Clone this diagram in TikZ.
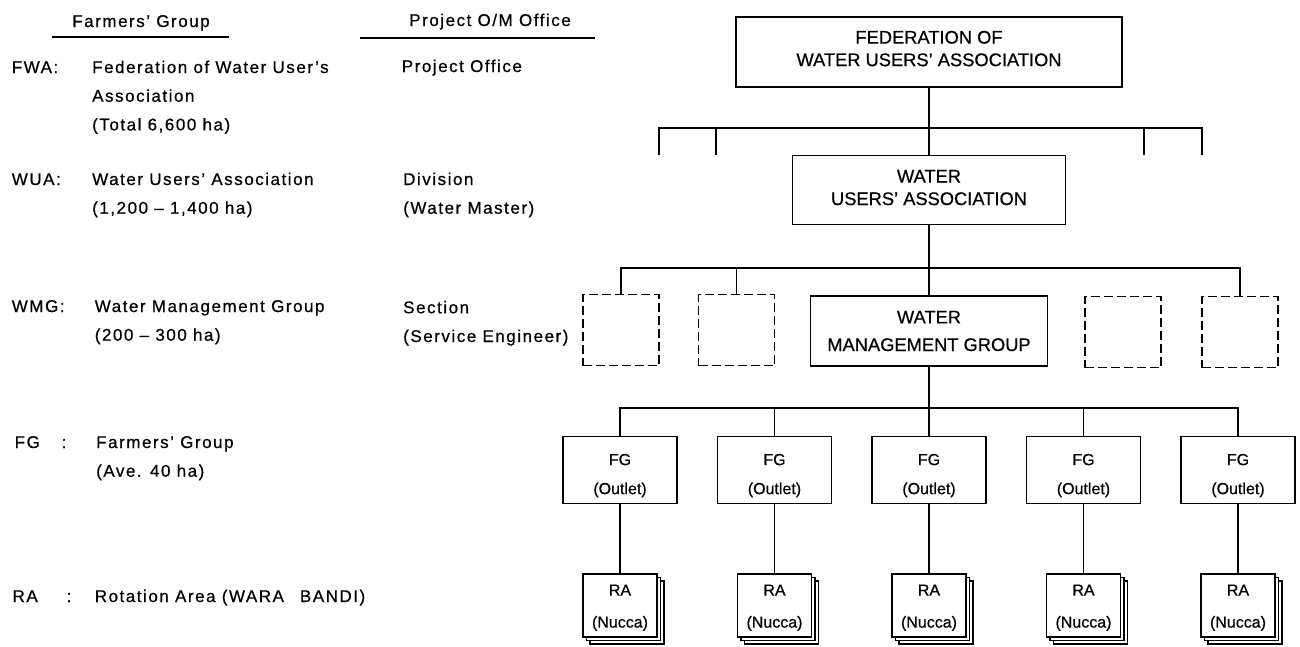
\documentclass[tikz,border=0pt]{standalone}
\usepackage{fontspec}
\setmainfont[FakeBold=0.6,Ligatures=TeX]{Liberation Sans}
\newfontfamily\labfont[LetterSpace=9,FakeBold=0.6,Ligatures=TeX]{Liberation Sans}
\usetikzlibrary{positioning}

\begin{document}
\begin{tikzpicture}[x=1pt,y=-1pt,
	box/.style		=	{draw,line width=1.7pt,align=center,inner sep=0pt,
							font=\fontsize{18.3}{22.5}\selectfont},
	empty box/.style	=	{draw,line width=1.5pt,dash pattern=on 9pt off 4pt,
							minimum width=76pt,minimum height=71pt},
	fg box/.style		=	{draw,line width=1.7pt,align=center,minimum width=114pt,minimum height=67pt,
							text height=51.5pt,font=\fontsize{16}{29}\selectfont},
	ra box/.style		=	{draw,line width=1.6pt,fill=white,align=center,minimum width=74pt,minimum height=63pt,
							font=\fontsize{16}{32}\selectfont},
	conn/.style		=	{line width=1.9pt},
	lab/.style		=	{anchor=base west,inner sep=0pt,align=left,
							font=\labfont\fontsize{17}{28.7}\selectfont}]

	\useasboundingbox (0,0) rectangle (1300,646);

	% headings
	\node[lab,anchor=base] (head fg) at (141,27) {Farmers' Group};
	\node[lab,anchor=base] (head om) at (490,26) {Project O/M Office};
	\draw[line width=1.3pt] (52,37) -- (229,37)	(360,38) -- (595,38);

	% left column (base = last line)
	\node[lab] (fwa ab) at (11.6,73) {FWA:};
	\node[lab] (fwa tx) at (92,130.4) {Federation of Water User's\\Association\\(Total 6,600 ha)};
	\node[lab] (wua ab) at (11.6,185) {WUA:};
	\node[lab] (wua tx) at (92,213.7) {Water Users' Association\\(1,200 -- 1,400 ha)};
	\node[lab] (wmg ab) at (11.6,312) {WMG:};
	\node[lab] (wmg tx) at (94.6,340.7) {Water Management Group\\(200 -- 300 ha)};
	\node[lab] (fg ab) at (14.5,448) {\makebox[47pt][l]{FG}:};
	\node[lab] (fg tx) at (96,476.7) {Farmers' Group\\(Ave. 40 ha)};
	\node[lab] (ra ab) at (12.4,602) {\makebox[54pt][l]{RA}:};
	\node[lab] (ra tx) at (94.6,602) {Rotation Area (WARA\hspace{16pt}BANDI)};

	% office column
	\node[lab] (off po) at (401.6,72) {Project Office};
	\node[lab] (off div) at (403,213.7) {Division\\(Water Master)};
	\node[lab] (off sec) at (403,342) {Section\\(Service Engineer)};

	% chart
	\node[box,minimum width=386pt,minimum height=70pt,text depth=7pt] (fwa) at (929,52) {FEDERATION OF\\WATER USERS' ASSOCIATION};
	\node[box,minimum width=273pt,minimum height=69pt,text depth=5pt] (wua) at (929,190) {WATER\\USERS' ASSOCIATION};
	\node[box,minimum width=237pt,minimum height=70pt,font=\fontsize{18.3}{27.6}\selectfont] (wmg) at (929,331) {WATER\\MANAGEMENT GROUP};

	\node[empty box] (e1) at (621,330) {};
	\node[empty box] (e2) at (736.5,330) {};
	\node[empty box] (e4) at (1123,332) {};
	\node[empty box] (e5) at (1240,332) {};

	\coordinate (bus1) at (929,128);
	\coordinate (bus2) at (929,268);
	\coordinate (bus3) at (929,408);

	\draw[conn] (fwa) -- (wua);
	\coordinate (t1) at (659,155);
	\coordinate (t2) at (716,155);
	\coordinate (t3) at (1144,155);
	\coordinate (t4) at (1202,155);
	\draw[conn] (t1) -- (t1 |- bus1) -- (t4 |- bus1) -- (t4)	(t2) -- (t2 |- bus1)	(t3) -- (t3 |- bus1);

	\draw[conn] (wua) -- (wmg);
	\draw[conn] (e1.north) -- (e1.north |- bus2) -- (e5.north |- bus2) -- (e5.north)
		(e2.north) -- (e2.north |- bus2);

	\foreach \i/\x in {1/620,2/774.5,3/929,4/1083.5,5/1238}{
		\node[fg box] (fg\i) at (\x,470) {FG\\(Outlet)};
		\node[ra box,xshift=7pt,yshift=-7pt] (ra\i c) at (\x,605.5) {};
		\node[ra box,xshift=3.5pt,yshift=-3.5pt] (ra\i b) at (\x,605.5) {};
		\node[ra box,text height=47.5pt] (ra\i) at (\x,605.5) {RA\\(Nucca)};
		\draw[conn] (fg\i) -- (ra\i);
	}
	\draw[conn] (wmg) -- (fg3);
	\draw[conn] (fg1.north) -- (fg1.north |- bus3) -- (fg5.north |- bus3) -- (fg5.north)
		(fg2.north) -- (fg2.north |- bus3)	(fg4.north) -- (fg4.north |- bus3);
\end{tikzpicture}
\end{document}
